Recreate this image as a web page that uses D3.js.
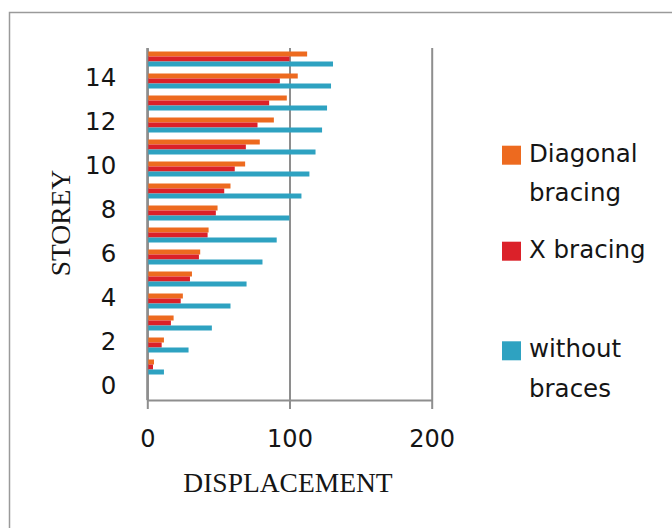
<!DOCTYPE html>
<html>
<head>
<meta charset="utf-8">
<script src="https://cdn.jsdelivr.net/npm/d3@7/dist/d3.min.js"></script>
<style>
  html, body { margin: 0; padding: 0; background: #fff; }
  svg { display: block; }
</style>
</head>
<body>
<svg id="chart" width="672" height="528"></svg>
<script>
// ---- data ----
const storeys = [0, 1, 2, 3, 4, 5, 6, 7, 8, 9, 10, 11, 12, 13, 14, 15];
const seriesNames = ["Diagonal bracing", "X bracing", "without braces"];
const diagonalBracing = [0, 4.7, 11.7, 18.5, 25, 31.4, 37.2, 43.1, 49.4, 58.5, 68.8, 79.1, 89, 98.1, 105.8, 112.4];
const xBracing = [0, 4, 10.1, 16.6, 23.5, 30, 36.3, 42.4, 48.2, 54.1, 61.5, 69.3, 77.5, 85.7, 93.2, 100];
const withoutBraces = [0, 11.7, 29, 45.4, 58.5, 69.8, 81, 91, 100, 108.4, 114, 118.3, 122.9, 126.4, 129.2, 130.6];
const yTickLabels = [0, 2, 4, 6, 8, 10, 12, 14];
const xTickValues = [0, 100, 200];
const colors = ["#ED6A1F", "#DB2129", "#2EA2C1"];

const seriesValues = [diagonalBracing, xBracing, withoutBraces];

// ---- layout ----
const svg = d3.select("#chart");
const plot = { left: 147.3, right: 431.7, top: 48, bottom: 400 };
const gridColor = "#8e8e8e";
const textColor = "#151515";

// outer border
svg.append("rect")
  .attr("x", 9.5).attr("y", 12.5)
  .attr("width", 700).attr("height", 560)
  .attr("fill", "none").attr("stroke", "#9a9a9a").attr("stroke-width", 1.5);

const x = d3.scaleLinear().domain([0, 200]).range([plot.left, plot.right]);
const y = d3.scaleBand().domain(storeys).range([plot.bottom, plot.top]).padding(0);
const ySub = d3.scaleBand().domain(d3.range(seriesNames.length))
  .range([0, y.bandwidth()]).paddingInner(0).paddingOuter(0.7);

// x axis with gridlines
const xAxis = svg.append("g")
  .attr("transform", `translate(0,${plot.bottom})`)
  .call(d3.axisBottom(x).tickValues(xTickValues).tickSizeInner(9).tickSizeOuter(0).tickPadding(21));
xAxis.select(".domain").attr("stroke", gridColor).attr("stroke-width", 2);
xAxis.selectAll(".tick line")
  .attr("y1", -(plot.bottom - plot.top)).attr("y2", 9)
  .attr("stroke", gridColor).attr("stroke-width", 2);
xAxis.selectAll(".tick text")
  .attr("font-family", "DejaVu Sans").attr("font-size", 24).attr("fill", textColor);

// y axis
const yAxis = svg.append("g")
  .attr("transform", `translate(${plot.left},0)`)
  .call(d3.axisLeft(y).tickValues(yTickLabels).tickSize(0).tickPadding(31));
yAxis.select(".domain").attr("stroke", gridColor).attr("stroke-width", 2);
yAxis.selectAll(".tick text")
  .attr("font-family", "DejaVu Sans").attr("font-size", 24.5).attr("fill", textColor)
  .attr("dy", "0.19em");

// bars
const groups = svg.append("g").selectAll("g")
  .data(storeys)
  .join("g")
  .attr("transform", d => `translate(0,${y(d)})`);

groups.selectAll("rect")
  .data((d, i) => seriesValues.map((vals, s) => ({ s, v: vals[i] })))
  .join("rect")
  .attr("x", x(0))
  .attr("y", d => ySub(d.s))
  .attr("width", d => x(d.v) - x(0))
  .attr("height", ySub.bandwidth())
  .attr("fill", d => colors[d.s]);

// redraw left axis line on top
svg.append("line")
  .attr("x1", plot.left).attr("x2", plot.left)
  .attr("y1", plot.top).attr("y2", plot.bottom)
  .attr("stroke", gridColor).attr("stroke-width", 2);

// axis titles
svg.append("text")
  .attr("x", 288).attr("y", 491.7)
  .attr("text-anchor", "middle")
  .attr("font-family", "Liberation Serif").attr("font-size", 27.5)
  .attr("fill", textColor)
  .text("DISPLACEMENT");

svg.append("text")
  .attr("transform", "translate(70,223) rotate(-90)")
  .attr("text-anchor", "middle")
  .attr("font-family", "Liberation Serif").attr("font-size", 27.5)
  .attr("fill", textColor)
  .text("STOREY");

// legend
const legendItems = [
  { lines: ["Diagonal", "bracing"], base: 161.7 },
  { lines: ["X bracing"], base: 257.7 },
  { lines: ["without", "braces"], base: 357.3 }
];
const legend = svg.append("g");
legendItems.forEach((item, i) => {
  legend.append("rect")
    .attr("x", 502).attr("y", item.base - 16)
    .attr("width", 19).attr("height", 19)
    .attr("fill", colors[i]);
  const t = legend.append("text")
    .attr("font-family", "DejaVu Sans").attr("font-size", 24.5)
    .attr("fill", textColor);
  item.lines.forEach((ln, j) => {
    t.append("tspan").attr("x", 529).attr("y", item.base + j * 39.5).text(ln);
  });
});
</script>
</body>
</html>
